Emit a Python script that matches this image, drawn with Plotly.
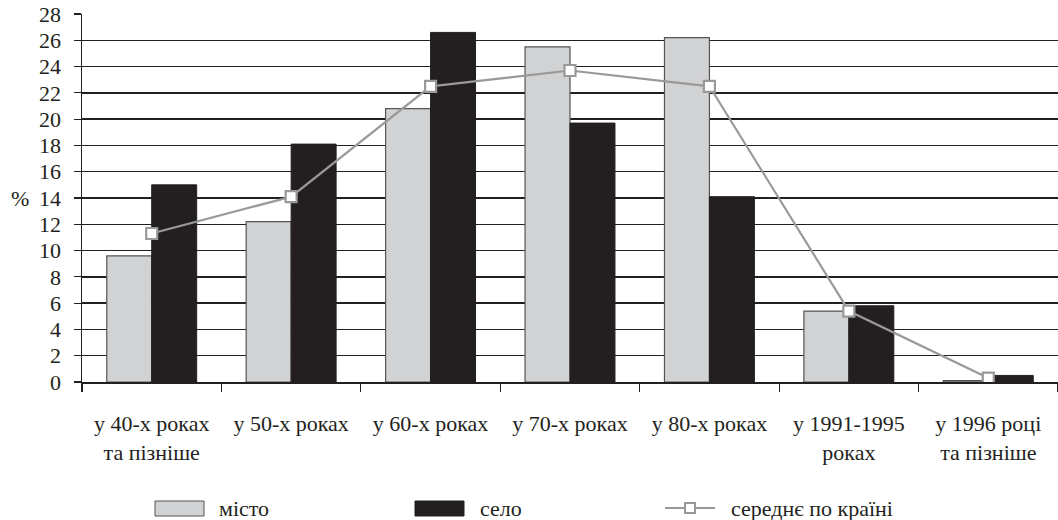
import plotly.graph_objects as go

categories = ["у 40-х роках<br>та пізніше", "у 50-х роках", "у 60-х роках", "у 70-х роках",
              "у 80-х роках", "у 1991-1995<br>роках", "у 1996 році<br>та пізніше"]
misto = [9.6, 12.2, 20.8, 25.5, 26.2, 5.4, 0.1]
selo = [15.0, 18.1, 26.6, 19.7, 14.1, 5.8, 0.5]
average = [11.3, 14.1, 22.5, 23.7, 22.5, 5.4, 0.3]
series_names = ["місто", "село", "середнє по країні"]
y_ticks = list(range(0, 29, 2))

W, H = 1058, 520
ML, MR, MT, MB = 82, 0, 14, 138
PW, PH = W - ML - MR, H - MT - MB

FONT = "Liberation Serif"
TXT = "#231f20"
LIGHT = "#d1d2d4"
DARK = "#231f20"
LINEC = "#999999"


def px(x):
    # page pixel -> paper coordinate
    return (x - ML) / PW


def py(y):
    return (H - MB - y) / PH


fig = go.Figure()
fig.add_bar(x=categories, y=misto, name=series_names[0], marker_color=LIGHT,
            marker_line=dict(color="#555555", width=1.2), showlegend=False)
fig.add_bar(x=categories, y=selo, name=series_names[1], marker_color=DARK,
            marker_line=dict(color=DARK, width=1), showlegend=False)
fig.add_scatter(x=categories, y=average, name=series_names[2], mode="lines+markers",
                line=dict(color=LINEC, width=2.2),
                marker=dict(symbol="square", size=11, color="white",
                            line=dict(color=LINEC, width=2.2)), showlegend=False)

# legend drawn to match the reference's wide swatches
shapes = [
    dict(type="rect", xref="paper", yref="paper", x0=px(155), x1=px(204), y0=py(516), y1=py(501),
         fillcolor=LIGHT, line=dict(color="#555555", width=1)),
    dict(type="rect", xref="paper", yref="paper", x0=px(415), x1=px(464), y0=py(516), y1=py(501),
         fillcolor=DARK, line=dict(color=DARK, width=1)),
    dict(type="line", xref="paper", yref="paper", x0=px(665), x1=px(715), y0=py(508), y1=py(508),
         line=dict(color=LINEC, width=2.2)),
    dict(type="rect", xref="paper", yref="paper", x0=px(685), x1=px(695), y0=py(513), y1=py(503),
         fillcolor="white", line=dict(color=LINEC, width=2)),
]
lf = dict(size=22, family=FONT, color=TXT)
annotations = [
    dict(text=series_names[0], x=px(217), y=py(508), xref="paper", yref="paper",
         xanchor="left", yanchor="middle", showarrow=False, font=lf),
    dict(text=series_names[1], x=px(478), y=py(508), xref="paper", yref="paper",
         xanchor="left", yanchor="middle", showarrow=False, font=lf),
    dict(text=series_names[2], x=px(729), y=py(508), xref="paper", yref="paper",
         xanchor="left", yanchor="middle", showarrow=False, font=lf),
    dict(text="%", x=px(20), y=py(198), xref="paper", yref="paper",
         xanchor="center", yanchor="middle", showarrow=False, font=lf),
]

fig.update_layout(
    width=W, height=H,
    margin=dict(l=ML, r=MR, t=MT, b=MB, pad=0),
    paper_bgcolor="white", plot_bgcolor="white",
    barmode="group", bargap=0.355, bargroupgap=0,
    font=dict(family=FONT, size=22, color=TXT),
    shapes=shapes, annotations=annotations,
    showlegend=False,
)
fig.update_xaxes(type="category", range=[-0.5, 6.5], showline=True, linecolor=TXT, linewidth=1.5,
                 ticks="outside", tickson="boundaries", ticklen=8, tickcolor=TXT, tickwidth=1.2,
                 showgrid=False, tickfont=dict(size=22, family=FONT, color=TXT), fixedrange=True,
                 automargin=False, ticklabelstandoff=21)
fig.update_yaxes(range=[0, 28], tickvals=y_ticks, showline=True, linecolor=TXT, linewidth=1.5,
                 ticks="outside", ticklen=7, tickcolor=TXT, tickwidth=1.2,
                 showgrid=True, gridcolor=TXT, gridwidth=1.4, zeroline=False,
                 tickfont=dict(size=22, family=FONT, color=TXT), fixedrange=True,
                 ticklabeloverflow="allow", automargin=False, ticklabelstandoff=8)

fig.write_html("out.html", config={"displayModeBar": False, "staticPlot": True},
               post_script="document.body.style.margin='0';document.body.style.overflow='hidden';")
